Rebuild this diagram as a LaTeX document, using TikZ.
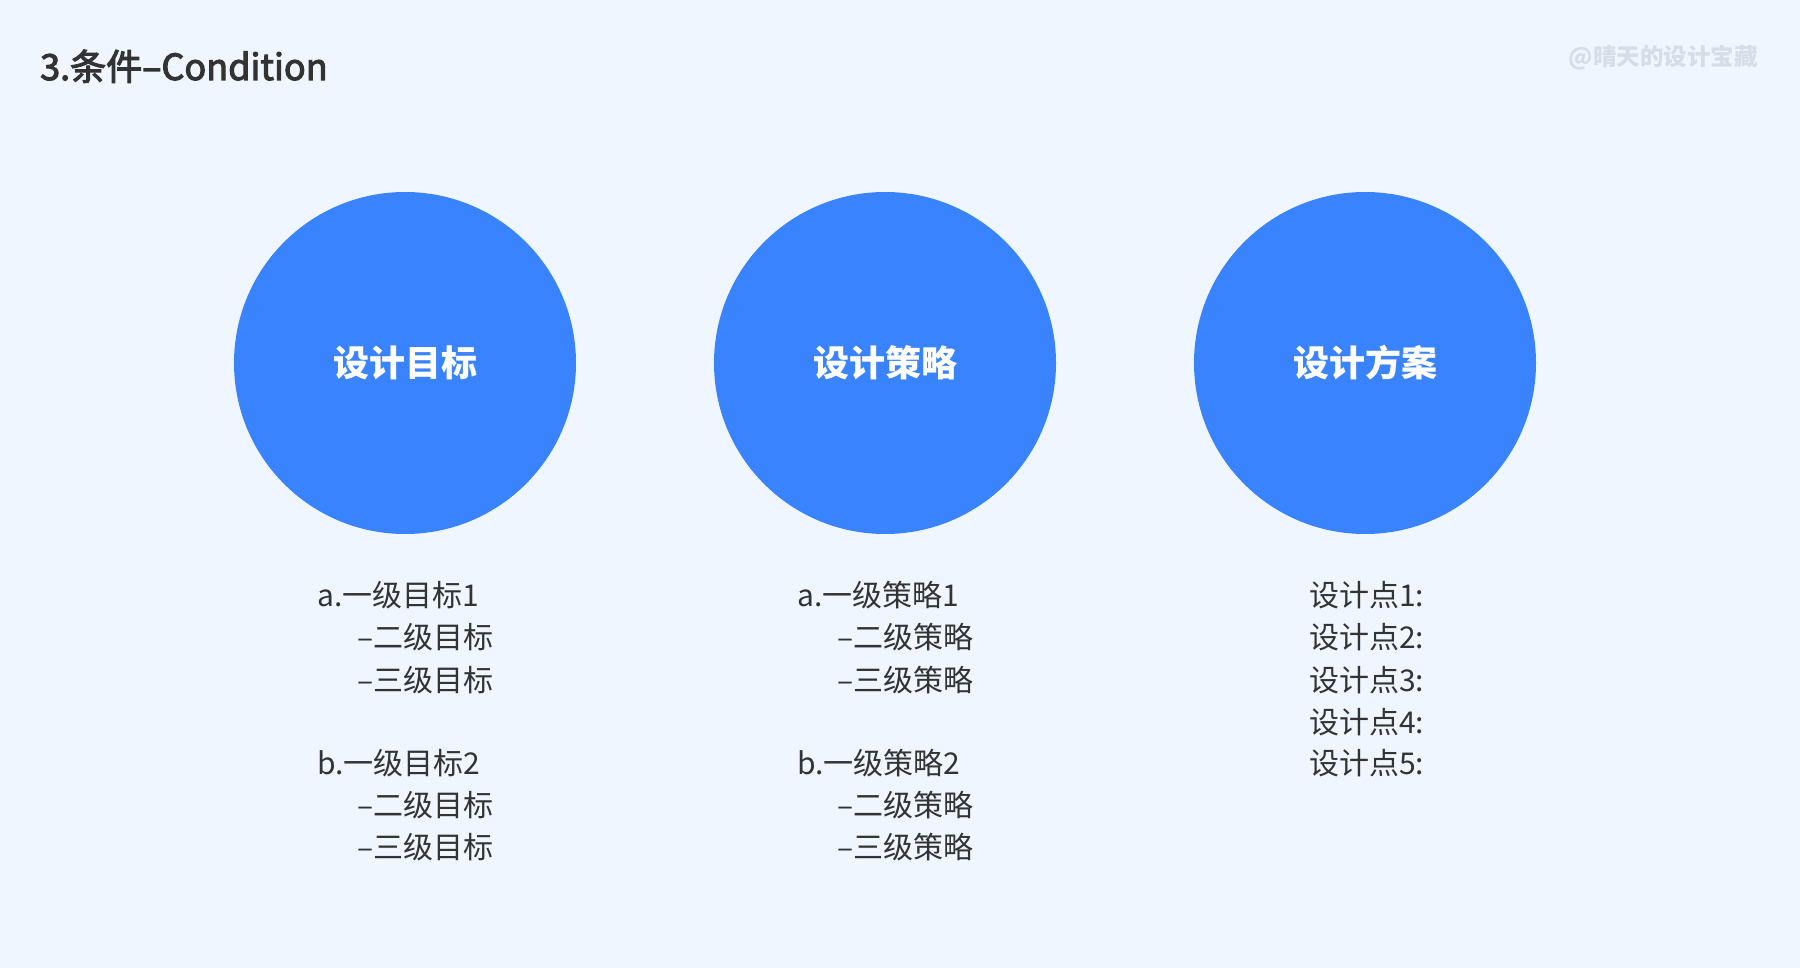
\documentclass[tikz,border=0pt]{standalone}
\usepackage{fontspec}
\setmainfont{Noto Sans CJK SC}
\newfontfamily\titlefont[FakeBold=3]{Noto Sans CJK SC}
\definecolor{bgc}{HTML}{EFF6FF}
\definecolor{circc}{HTML}{3A83FF}
\definecolor{txtc}{HTML}{333333}
\definecolor{wmc}{HTML}{D6DDE7}
\tikzset{
  bubble/.style={circle, fill=circc, minimum size=342pt, inner sep=0pt, text=white, font=\fontsize{36}{40}\selectfont\bfseries},
  listline/.style={anchor=base west, inner sep=0pt, text=txtc, font=\fontsize{30}{36}\selectfont},
}
\begin{document}
\begin{tikzpicture}[x=1pt,y=-1pt]
\fill[bgc] (0,0) rectangle (1800,968);
\useasboundingbox (0,0) rectangle (1800,968);
\node[anchor=base west, inner sep=0pt, text=txtc, font=\titlefont\fontsize{36}{42}\selectfont] (title) at (40,80) {3.条件–Condition};
\node[anchor=base east, inner sep=0pt, text=wmc, font=\fontsize{23.5}{28}\selectfont\bfseries] (wm) at (1758,66) {@晴天的设计宝藏};
\node[bubble] (c1) at (405,363) {设计目标};
\node[bubble] (c2) at (885,363) {设计策略};
\node[bubble] (c3) at (1365,363) {设计方案};
% column 1
\node[listline] (a1) at (317,606) {a.一级目标1};
\node[listline] (a2) at (357,648) {–二级目标};
\node[listline] (a3) at (357,691) {–三级目标};
\node[listline] (b1) at (317,774) {b.一级目标2};
\node[listline] (b2) at (357,816) {–二级目标};
\node[listline] (b3) at (357,858) {–三级目标};
% column 2
\node[listline] (d1) at (797,606) {a.一级策略1};
\node[listline] (d2) at (837,648) {–二级策略};
\node[listline] (d3) at (837,691) {–三级策略};
\node[listline] (e1) at (797,774) {b.一级策略2};
\node[listline] (e2) at (837,816) {–二级策略};
\node[listline] (e3) at (837,858) {–三级策略};
% column 3
\node[listline] (p1) at (1309,606) {设计点1:};
\node[listline] (p2) at (1309,648) {设计点2:};
\node[listline] (p3) at (1309,691) {设计点3:};
\node[listline] (p4) at (1309,733) {设计点4:};
\node[listline] (p5) at (1309,774) {设计点5:};
\end{tikzpicture}
\end{document}
